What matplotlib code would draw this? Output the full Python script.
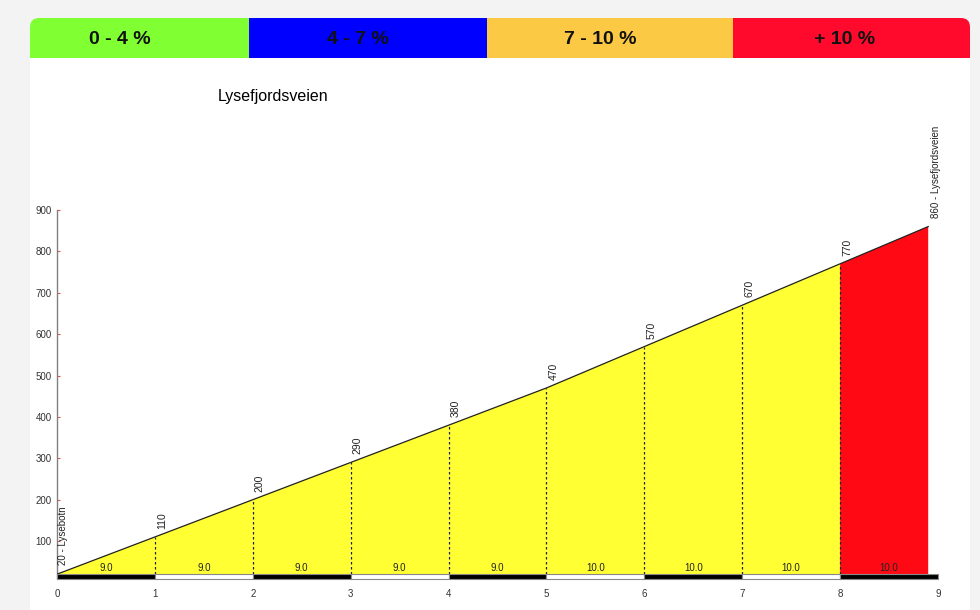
import matplotlib
matplotlib.use("Agg")
import matplotlib.pyplot as plt
from matplotlib.patches import FancyBboxPatch, Rectangle, Polygon

# ---- data ----
title = "Lysefjordsveien"
km = [0, 1, 2, 3, 4, 5, 6, 7, 8, 8.9]
elev = [20, 110, 200, 290, 380, 470, 570, 670, 770, 860]
gradients = [9.0, 9.0, 9.0, 9.0, 9.0, 10.0, 10.0, 10.0, 10.0]
segment_colors = ["#ffff33"] * 8 + ["#ff0a14"]
start_label = "20 - Lysebotn"
end_label = "860 - Lysefjordsveien"
legend_labels = ["0 - 4 %", "4 - 7 %", "7 - 10 %", "+ 10 %"]
legend_colors = ["#80ff33", "#0000ff", "#fcc944", "#ff0a2d"]
yticks = [100, 200, 300, 400, 500, 600, 700, 800, 900]
xticks = [0, 1, 2, 3, 4, 5, 6, 7, 8, 9]

W, H = 980, 610
fig = plt.figure(figsize=(W / 100, H / 100), dpi=100, facecolor="#f3f3f3")

# background / card in pixel coords (y measured from bottom)
bg = fig.add_axes([0, 0, 1, 1])
bg.set_xlim(0, W)
bg.set_ylim(0, H)
bg.axis("off")

def py(y):
    return H - y

R = 9
bg.add_patch(FancyBboxPatch((30, -40), 940, py(18) + 40, boxstyle=f"round,pad=0,rounding_size={R}",
                            facecolor="white", edgecolor="none"))
# header band (top-left and top-right rounded)
bg.add_patch(FancyBboxPatch((30, py(58)), 240, 40, boxstyle=f"round,pad=0,rounding_size={R}",
                            facecolor=legend_colors[0], edgecolor="none"))
bg.add_patch(Rectangle((30, py(58)), 30, 20, facecolor=legend_colors[0], edgecolor="none"))
bg.add_patch(FancyBboxPatch((720, py(58)), 250, 40, boxstyle=f"round,pad=0,rounding_size={R}",
                            facecolor=legend_colors[3], edgecolor="none"))
bg.add_patch(Rectangle((940, py(58)), 30, 20, facecolor=legend_colors[3], edgecolor="none"))
bg.add_patch(Rectangle((249, py(58)), 238, 40, facecolor=legend_colors[1], edgecolor="none"))
bg.add_patch(Rectangle((487, py(58)), 246, 40, facecolor=legend_colors[2], edgecolor="none"))
centers = [120, 358, 600, 845]
for cx, lab in zip(centers, legend_labels):
    bg.text(cx, py(40), lab, ha="center", va="center", fontsize=14, fontweight="bold",
            family=["Liberation Sans Narrow", "Liberation Sans", "DejaVu Sans"],
            fontstretch="condensed", color="#111111")
bg.text(273, py(97), title, ha="center", va="center", fontsize=11.5,
        family=["Liberation Sans", "DejaVu Sans"], color="black")

# chart axes
ybot = 12
px_top, px_bot = 210, 577.5
ax = fig.add_axes([57 / W, (H - px_bot) / H, (938 - 57) / W, (px_bot - px_top) / H])
ax.set_facecolor("none")
ax.set_xlim(0, 9)
ax.set_ylim(ybot, 900)

for i in range(len(km) - 1):
    poly = Polygon([(km[i], 20), (km[i], elev[i]), (km[i + 1], elev[i + 1]), (km[i + 1], 20)],
                   closed=True, facecolor=segment_colors[i], edgecolor="none", zorder=1)
    ax.add_patch(poly)
ax.plot(km, elev, color="#222222", lw=0.9, zorder=3)

lab_family = ["Liberation Sans", "DejaVu Sans"]
for i in range(1, len(km) - 1):
    ax.plot([km[i], km[i]], [20, elev[i]], color="#222222", lw=0.9, ls=(0, (2, 2)), zorder=2)
    ax.annotate(str(elev[i]), (km[i], elev[i]), xytext=(2, 8), textcoords="offset pixels",
                rotation=90, ha="left", va="bottom", fontsize=7.5, color="#222222",
                family=lab_family)
ax.annotate(start_label, (km[0], elev[0]), xytext=(1, 9), textcoords="offset pixels",
            rotation=90, ha="left", va="bottom", fontsize=7, color="#222222", family=lab_family)
ax.annotate(end_label, (km[-1], elev[-1]), xytext=(3, 9), textcoords="offset pixels",
            rotation=90, ha="left", va="bottom", fontsize=7, color="#222222", family=lab_family)

for i, g in enumerate(gradients):
    ax.annotate(f"{g:.1f}", (km[i] + 0.5, 20), xytext=(0, 1.5),
                textcoords="offset pixels", ha="center", va="bottom", fontsize=7,
                color="#222222", family=lab_family, zorder=4)

# km bar
for i in range(9):
    ax.add_patch(Rectangle((i, 9), 1, 11, facecolor="black" if i % 2 == 0 else "white",
                           edgecolor="#888888", lw=0.8, zorder=5, clip_on=False))

ax.set_xticks(xticks)
ax.set_yticks(yticks)
ax.tick_params(axis="x", length=0, pad=8, labelsize=7, labelcolor="#333333")
ax.tick_params(axis="y", direction="in", length=2.5, width=0.8, color="#e05050",
               pad=4, labelsize=7, labelcolor="#333333")
for lab in ax.get_xticklabels() + ax.get_yticklabels():
    lab.set_family(lab_family)
for s in ["top", "right", "bottom"]:
    ax.spines[s].set_visible(False)
ax.spines["left"].set_color("#808080")
ax.spines["left"].set_linewidth(1)

fig.savefig("out.png", dpi=100, facecolor=fig.get_facecolor())
